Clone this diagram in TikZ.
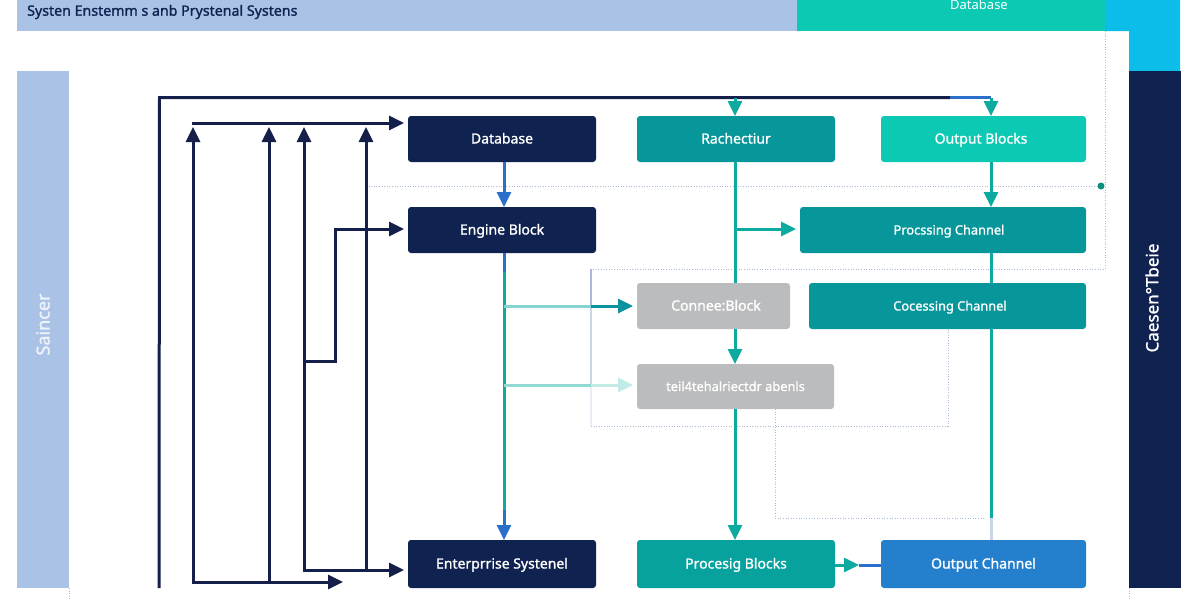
\documentclass[tikz,border=0pt]{standalone}
\usepackage{fontspec}
\setmainfont{Noto Sans}
\newfontfamily\boldish{Noto Sans}[FakeBold=1.2]
\usetikzlibrary{arrows.meta,positioning}
\definecolor{navy}{HTML}{0F2250}
\definecolor{linenavy}{HTML}{14204A}
\definecolor{tealdark}{HTML}{07979A}
\definecolor{tealmid}{HTML}{07A29D}
\definecolor{tealline}{HTML}{0DAAA0}
\definecolor{tealbright}{HTML}{0CC9B3}
\definecolor{barblue}{HTML}{A9C2E6}
\definecolor{cyanbar}{HTML}{0BBDE8}
\definecolor{greybox}{HTML}{BBBCBE}
\definecolor{bluebox}{HTML}{2480CC}
\definecolor{blueline}{HTML}{2A6FC9}
\definecolor{dotblue}{HTML}{A9B9DC}
\definecolor{dotteal}{HTML}{0B8F7E}
\begin{document}
\begin{tikzpicture}[x=1pt,y=-1pt,>={Triangle[length=15pt,width=14pt]},
	blocknode/.style={rectangle,rounded corners=3pt,inner sep=0pt,outer sep=0pt,text=white,font=\boldish\fontsize{14}{16}\selectfont,text height=11pt,text depth=2pt,minimum height=46pt},
	smallblock/.style={blocknode,font=\boldish\fontsize{12.8}{16}\selectfont},
	barnode/.style={rectangle,inner sep=0pt,outer sep=0pt,minimum width=52pt,minimum height=517pt},
	navyline/.style={draw=linenavy,line width=3pt},
	tealarrow/.style={draw=tealline,line width=3pt},
	blueseg/.style={draw=blueline,line width=3pt},
	dotline/.style={draw=dotblue,line width=1pt,dash pattern=on 1pt off 1.6pt}]
		\useasboundingbox (0,0) rectangle (1200,600);
		% bars round the picture
		\fill[cyanbar] (1105,0) rectangle (1180,31) (1129,31) rectangle (1180,71);
		\node [rectangle,fill=barblue,inner sep=0pt,minimum width=780pt,minimum height=31pt] (head) at (407,15.5) {};
		\node [rectangle,fill=tealbright,inner sep=0pt,minimum width=308pt,minimum height=31pt] (headdb) at (951,15.5) {};
		\node [text=white,font=\fontsize{13}{15}\selectfont] (headdbtext) at (979,5) {Database};
		\node [text=navy,font=\boldish\fontsize{14.2}{16}\selectfont,anchor=west,inner sep=0pt] (title) at (27,12) {Systen Enstemm s anb Prystenal Systens};
		\node [barnode,fill=barblue] (left) at (43,329.5) {};
		\node [barnode,fill=navy] (right) at (1155,329.5) {};
		\node [rotate=90,text=white!80!barblue,font=\boldish\fontsize{18}{20}\selectfont] (lefttext) at (43,324.5) {Saincer};
		\node [rotate=90,text=white,font=\boldish\fontsize{17}{19}\selectfont] (righttext) at (1152,298) {Caesen°Tbeie};
		% blocks
		\node [blocknode,fill=navy,minimum width=188pt] (db) at (502,139) {Database};
		\node [blocknode,fill=navy,minimum width=188pt] (engine) at (502,230) {Engine Block};
		\node [blocknode,fill=navy,minimum width=188pt,minimum height=48pt] (enterprise) at (502,564) {Enterprrise Systenel};
		\node [blocknode,fill=tealdark,minimum width=198pt] (rach) at (736,139) {Rachectiur};
		\node [blocknode,fill=tealbright,minimum width=205pt] (outblocks) at (983.5,139) {\hspace*{-5pt}Output Blocks};
		\node [smallblock,fill=tealdark,minimum width=286pt] (procchan) at (943,230) {\hspace*{12pt}Procssing Channel};
		\node [smallblock,fill=tealdark,minimum width=277pt] (cocchan) at (947.5,306) {\hspace*{5pt}Cocessing Channel};
		\node [blocknode,fill=greybox,minimum width=153pt] (connect) at (713.5,306) {\hspace*{5pt}Connee:Block};
		\node [smallblock,fill=greybox,minimum width=197pt,minimum height=45pt] (grey) at (735.5,386.5) {teil4tehalriectdr abenls};
		\node [blocknode,fill=tealmid,minimum width=198pt,minimum height=48pt] (procblocks) at (736,564) {Procesig Blocks};
		\node [blocknode,fill=bluebox,minimum width=205pt,minimum height=48pt] (outchan) at (983.5,564) {Output Channel};
		% free ends
		\coordinate (a0) at (159,588);
		\coordinate (a1) at (193,582);
		\coordinate (a2) at (269,582);
		\coordinate (a3) at (304,570);
		\coordinate (a4) at (366,570);
		\coordinate (b1) at (950,97.5);
		\coordinate (b2) at (991,97.5);
		\coordinate (c1) at (504,306);
		\coordinate (c2) at (504,385);
		\coordinate (c3) at (735,229);
		\coordinate (d1) at (991,518);
		\coordinate (d2) at (504,272);
		\coordinate (d3) at (504,510);
		\coordinate (e1) at (859,565);
		\coordinate (e2) at (591,306);
		\coordinate (e3) at (591,385);
		\coordinate (f1) at (1101,186);
		% dotted guides
		\draw[dotline] (366,186) -- (f1);
		\draw[dotline] (1105,31) -- (1105,269) -- (591,269);
		\draw[dotline] (591,426) -- (948,426) -- (948,329);
		\draw[dotline] (775,409) -- (775,518) -- (985,518);
		\draw[dotline] (69,588) -- (69,600);
		\draw[dotline] (1129,588) -- (1129,600);
		\draw[draw=dotblue,line width=1.6pt] (591,269) -- (e2);
		\draw[draw=dotblue!60,line width=1.6pt] (e2) -- (e3);
		\draw[draw=dotblue!25,line width=1.6pt] (e3) -- (591,426);
		\fill[dotteal] (f1) circle (3.5pt);
		% navy lines on the left
		\draw[navyline] (a0) -- (159.5,97.5) -- (b1);
		\draw[navyline,->] (a1) -- (193,127);
		\draw[navyline,->,shorten >=4pt] (191.5,123) -- (191.5,123 -| db.west);
		\draw[navyline,->] (a2) -- (269,127);
		\draw[navyline,->] (a3) -- (304,127);
		\draw[navyline,->] (a4) -- (366,127);
		\draw[navyline,->] (191.5,582) -- (343,582);
		\draw[navyline,->,shorten >=4pt] (302.5,570) -- (302.5,570 -| enterprise.west);
		\draw[navyline,->,shorten >=4pt] (304,361) -- (335,361) -- (335,229) -- (335,229 -| engine.west);
		% top line
		\draw[blueseg] (b1) -- (b2);
		\draw[tealarrow,->] (735,97.5) -- (735,97.5 |- rach.north);
		\draw[tealarrow,->] (b2) -- (b2 |- outblocks.north);
		% middle column
		\draw[blueseg,->] (504,162) -- (504,207);
		\draw[blueseg] (504,253) -- (d2);
		\draw[tealarrow] (d2) -- (d3);
		\draw[blueseg,->] (d3) -- (504,540);
		\draw[draw=tealline!50,line width=3pt] (c1) -- (e2);
		\draw[tealarrow,->,shorten >=4pt,draw=tealdark!88!blueline] (e2) -- (e2 -| connect.west);
		\draw[draw=tealline!45,line width=3pt] (c2) -- (e3);
		\draw[draw=tealline!25,line width=3pt,->,shorten >=4pt] (e3) -- (e3 -| grey.west);
		% teal columns
		\draw[tealarrow] (735,162) -- (735,283);
		\draw[tealarrow,->,shorten >=4pt] (c3) -- (c3 -| procchan.west);
		\draw[tealarrow,->] (735,329) -- (735,364);
		\draw[tealarrow,->] (735,409) -- (735,540);
		\draw[tealarrow,->] (991,162) -- (991,207);
		\draw[tealarrow] (991,253) -- (991,283);
		\draw[tealarrow] (991,329) -- (d1);
		\draw[draw=dotblue!60,line width=3pt] (d1) -- (991,540);
		\draw[blueseg] (e1) -- (e1 -| outchan.west);
		\draw[tealarrow,->] (e1 -| procblocks.east) -- (e1);
	\end{tikzpicture}
\end{document}
